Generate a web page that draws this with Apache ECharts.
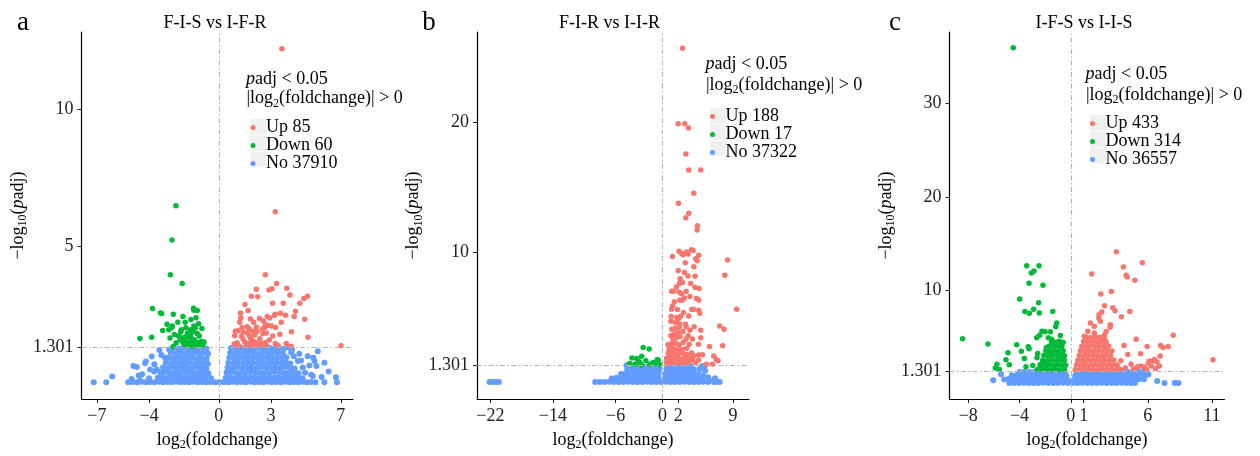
<!DOCTYPE html>
<html><head><meta charset="utf-8">
<script src="https://cdn.jsdelivr.net/npm/echarts@6/dist/echarts.min.js"></script>
<style>html,body{margin:0;padding:0;background:#fff}#chart{width:1260px;height:456px}</style>
</head><body><div id="chart"></div>
<script>
// ---------- DATA ----------
const titles = ['F-I-S vs I-F-R', 'F-I-R vs I-I-R', 'I-F-S vs I-I-S'];
const letters = ['a', 'b', 'c'];
const aLabels = ['Up 85', 'Down 60', 'No 37910'];
const bLabels = ['Up 188', 'Down 17', 'No 37322'];
const cLabels = ['Up 433', 'Down 314', 'No 36557'];
const aXTicks = [-7, -4, 0, 3, 7];
const bXTicks = [-22, -14, -6, 0, 2, 9];
const cXTicks = [-8, -4, 0, 1, 6, 11];
const aYTicks = [1.301, 5, 10];
const bYTicks = [1.301, 10, 20];
const cYTicks = [1.301, 10, 20, 30];
const threshold = 1.301;

const aUp = [[3.62,12.22],[3.24,6.25],[2.67,3.94],[3.31,3.62],[2.15,3.41],[3.05,3.43],[2.88,3.38],[3.9,3.45],[1.87,3.15],[2.23,3.13],[4.08,3.2],[5.09,3.15],[4.88,3.07],[4.65,2.9],[3.09,2.9],[1.68,2.63],[1.24,2.54],[3.54,2.53],[3.83,2.46],[3.18,2.45],[3.24,2.49],[4.32,2.41],[2.78,2.41],[2.91,2.36],[1.26,2.36],[1.81,2.32],[2.33,2.34],[4.93,2.31],[3.01,2.06],[3.26,2.01],[3.58,2.2],[1.33,2.01],[1.62,2.04],[2.15,2.03],[2.63,2.01],[2.67,2.12],[2.82,2.08],[0.95,1.87],[1.09,1.89],[1.39,1.85],[1.64,1.81],[1.96,1.86],[2.19,1.87],[4.17,1.85],[3.5,1.76],[5.12,1.65],[0.91,1.71],[1.3,1.69],[1.77,1.69],[2.06,1.73],[2.53,1.79],[2.72,1.81],[1.05,1.45],[1.49,1.47],[1.68,1.42],[1.96,1.51],[2.15,1.45],[2.44,1.42],[2.67,1.45],[3.24,1.42],[3.87,1.42],[1.16,1.33],[1.58,1.33],[1.93,1.35],[2.3,1.36],[2.72,1.35],[4.15,1.32],[7.01,1.34],[1.4,1.58],[1.85,1.58],[2.35,1.6],[2.9,1.55],[2.5,1.95],[1.2,2.2],[3.1,1.7],[0.88,1.4],[2.0,2.2],[3.4,1.35],[2.05,1.38],[1.75,1.95],[3.7,2.9],[4.4,2.6],[1.5,2.85],[2.55,2.25]];
const aDown = [[-2.46,6.47],[-2.69,5.21],[-2.78,3.94],[-2.1,3.62],[-3.81,2.7],[-3.35,2.54],[-3.28,2.52],[-2.61,2.49],[-1.45,2.71],[-1.43,2.64],[-1.24,2.63],[-2.06,2.41],[-1.31,2.37],[-1.93,2.2],[-2.97,2.13],[-2.67,2.06],[-2.7,2.01],[-3.22,1.9],[-2.87,1.93],[-2.15,1.93],[-1.89,2.0],[-1.43,2.06],[-1.16,2.15],[-0.97,1.97],[-2.19,1.84],[-1.62,1.93],[-1.47,1.86],[-1.24,1.79],[-1.85,1.69],[-1.71,1.65],[-1.62,1.75],[-2.04,1.63],[-4.53,1.61],[-3.85,1.65],[-2.21,1.55],[-2.06,1.47],[-1.85,1.48],[-1.66,1.5],[-1.47,1.42],[-1.3,1.39],[-0.9,1.37],[-1.09,1.36],[-2.61,1.31],[-1.55,1.6],[-1.95,1.38],[-1.75,1.34],[-1.38,1.55],[-1.2,1.46],[-2.3,1.7],[-1.0,1.5],[-2.45,1.45],[-1.6,2.3],[-1.35,2.0],[-1.8,1.8],[-2.35,2.2],[-1.12,1.7],[-0.85,1.48],[-2.8,1.62],[-2.55,1.75],[-1.5,1.32]];
const aNo = [[-7.18,0],[-6.46,0],[-6.12,0.21],[-5.2,0],[-4.95,0.01],[-4.7,0],[-4.45,0.02],[-4.2,0],[-3.95,0.01],[-3.7,0],[-3.45,0.02],[-3.2,0],[-2.95,0.01],[-2.7,0],[-2.45,0.02],[-2.2,0],[-1.95,0.01],[-1.7,0],[-1.45,0.02],[-1.2,0],[-0.95,0.01],[-0.7,0],[-0.45,0.01],[-0.2,0],[0.05,0],[0.3,0.01],[0.55,0],[0.8,0.02],[1.05,0],[1.3,0.01],[1.55,0],[1.8,0.02],[2.05,0],[2.3,0.01],[2.55,0],[2.8,0.02],[3.05,0],[3.3,0.01],[3.55,0],[3.8,0.02],[4.05,0],[4.3,0.01],[4.55,0],[4.8,0.02],[5.05,0],[5.3,0.01],[5.54,0],[6.06,0],[6.78,0],[6.72,0.19],[5.39,0.23],
[-3.5,0.17],[-3.22,0.19],[-2.95,0.16],[-2.68,0.2],[-2.4,0.18],[-2.12,0.17],[-1.85,0.19],[-1.58,0.16],[-1.3,0.2],[-1.03,0.18],[-0.76,0.17],[-0.45,0.15],
[-3.35,0.36],[-3.08,0.38],[-2.8,0.34],[-2.52,0.37],[-2.25,0.35],[-1.98,0.38],[-1.7,0.36],[-1.42,0.34],[-1.15,0.37],[-0.88,0.35],[-0.6,0.33],
[-3.2,0.54],[-2.92,0.52],[-2.65,0.56],[-2.38,0.53],[-2.1,0.55],[-1.83,0.54],[-1.55,0.52],[-1.28,0.56],[-1.0,0.53],[-0.72,0.51],
[-3.05,0.72],[-2.78,0.7],[-2.5,0.74],[-2.22,0.71],[-1.95,0.73],[-1.68,0.72],[-1.4,0.7],[-1.12,0.74],[-0.85,0.71],[-0.62,0.68],
[-2.9,0.9],[-2.62,0.88],[-2.35,0.92],[-2.08,0.89],[-1.8,0.91],[-1.52,0.9],[-1.25,0.88],[-0.98,0.92],[-0.7,0.87],
[-2.75,1.08],[-2.48,1.06],[-2.2,1.1],[-1.92,1.07],[-1.65,1.09],[-1.38,1.08],[-1.1,1.06],[-0.85,1.1],[-0.62,1.05],
[-2.6,1.26],[-2.32,1.24],[-2.05,1.27],[-1.78,1.25],[-1.5,1.26],[-1.22,1.24],[-0.95,1.27],[-0.7,1.23],
[-4.9,0.6],[-4.7,0.56],[-4.19,0.76],[-4.23,0.7],[-3.41,1.18],[-3.7,0.66],[-3.56,0.47],[-3.94,0.47],[-3.71,0.4],[-3.85,0.95],[-4.4,0.3],[-4.0,0.15],[-4.51,0.07],[-3.09,0.9],[-2.85,1.2],[-3.3,1.0],[-2.63,1.28],[-4.6,0.25],[-5.0,0.12],
[0.4,0.17],[0.68,0.19],[0.95,0.16],[1.22,0.2],[1.5,0.18],[1.78,0.17],[2.05,0.19],[2.32,0.16],[2.6,0.2],[2.88,0.18],[3.15,0.17],[3.42,0.19],[3.7,0.16],[3.98,0.2],[4.25,0.18],[4.52,0.17],[4.8,0.15],
[0.45,0.36],[0.72,0.38],[1.0,0.34],[1.28,0.37],[1.55,0.35],[1.82,0.38],[2.1,0.36],[2.38,0.34],[2.65,0.37],[2.92,0.35],[3.2,0.38],[3.48,0.36],[3.75,0.34],[4.02,0.37],[4.3,0.35],[4.58,0.33],
[0.5,0.54],[0.78,0.52],[1.05,0.56],[1.32,0.53],[1.6,0.55],[1.88,0.54],[2.15,0.52],[2.42,0.56],[2.7,0.53],[2.98,0.55],[3.25,0.54],[3.52,0.52],[3.8,0.56],[4.08,0.53],[4.35,0.51],
[0.55,0.72],[0.82,0.7],[1.1,0.74],[1.38,0.71],[1.65,0.73],[1.92,0.72],[2.2,0.7],[2.48,0.74],[2.75,0.71],[3.02,0.73],[3.3,0.72],[3.58,0.7],[3.85,0.74],[4.1,0.69],
[0.6,0.9],[0.88,0.88],[1.15,0.92],[1.42,0.89],[1.7,0.91],[1.98,0.9],[2.25,0.88],[2.52,0.92],[2.8,0.89],[3.08,0.91],[3.35,0.9],[3.62,0.88],[3.88,0.92],
[0.65,1.08],[0.92,1.06],[1.2,1.1],[1.48,1.07],[1.75,1.09],[2.02,1.08],[2.3,1.06],[2.58,1.1],[2.85,1.07],[3.12,1.09],[3.4,1.08],[3.68,1.05],
[0.7,1.26],[0.98,1.24],[1.25,1.27],[1.52,1.25],[1.8,1.26],[2.08,1.24],[2.35,1.27],[2.62,1.25],[2.9,1.26],[3.18,1.24],[3.45,1.27],[3.72,1.22],
[4.21,1.2],[4.15,1.1],[4.3,0.96],[4.53,0.78],[4.72,0.8],[4.82,0.54],[5.1,0.96],[5.68,1.14],[5.49,0.78],[6.06,0.72],[5.3,0.28],[5.6,0.6],[5.42,0.9],[4.62,1.05],[3.98,1.28],[4.95,0.35],[5.2,0.62],[6.3,0.4],[5.9,0.2]];

const bUp = [[2.55,25.74],[1.99,19.92],[2.84,19.92],[3.31,19.59],[2.97,17.59],[3.35,16.36],[4.88,16.36],[3.99,14.56],[2.04,13.79],[3.35,13.02],[2.97,12.67],[4.46,12.05],[4.41,11.72],[1.27,9.69],[2.11,10.08],[2.42,9.92],[2.62,9.82],[3.06,10.02],[3.26,9.87],[3.69,10.21],[3.9,10.15],[4.62,9.77],[4.24,9.51],[4.41,9.36],[8.32,9.41],[3.99,8.9],[2.8,8.44],[3.26,8.18],[4.15,8.15],[7.94,8.23],[2.24,7.97],[2.37,7.77],[2.55,7.67],[2.17,7.59],[1.78,7.33],[4.15,7.31],[4.66,7.21],[1.18,7.0],[1.4,7.0],[2.11,6.95],[3.01,6.98],[2.8,6.49],[4.33,6.44],[4.62,6.33],[2.2,6.31],[2.5,6.31],[1.27,5.87],[1.15,5.62],[3.73,5.59],[3.95,5.62],[4.62,5.54],[4.75,5.31],[9.46,5.62],[2.67,5.36],[3.35,5.1],[1.1,5.05],[1.82,4.98],[1.99,4.85],[2.29,5.05],[7.3,4.33],[7.85,4.08],[1.06,4.69],[1.61,4.59],[2.2,4.46],[2.93,4.46],[1.18,4.08],[1.61,4.15],[2.11,4.23],[3.01,4.26],[4.03,4.26],[4.88,4.0],[3.26,3.56],[3.82,3.31],[4.88,3.41],[4.59,2.92],[1.06,3.56],[1.35,3.31],[1.78,3.44],[2.24,3.49],[1.27,3.05],[1.69,3.0],[2.11,2.85],[2.62,3.05],[1.18,2.67],[0.84,2.54],[1.61,2.54],[2.2,2.49],[3.06,2.59],[5.99,2.74],[7.68,2.79],[0.71,2.23],[1.15,2.15],[1.57,2.13],[2.11,2.28],[2.62,2.18],[3.06,2.13],[3.69,2.23],[3.99,2.03],[4.59,2.08],[6.54,2.0],[6.88,1.72],[0.51,1.82],[0.93,1.72],[1.35,1.77],[1.86,1.64],[2.29,1.77],[2.84,1.72],[3.39,1.62],[3.82,1.72],[0.51,1.51],[1.15,1.46],[1.69,1.46],[2.2,1.51],[2.71,1.46],[3.26,1.46],[5.61,1.38],[6.37,1.38],[7.09,1.64],[0.6,1.4],[0.9,1.95],[1.4,2.4],[1.9,2.0],[2.5,2.5],[2.9,1.95],[3.5,1.85],[0.7,2.9],[1.5,3.7],[2.6,3.9],[3.4,2.9],[3.5,4.0],[1.9,5.6],[2.4,6.8],[1.5,6.2],[3.5,6.6],[2.0,8.6],[3.6,7.6],[2.9,9.2],[1.7,1.9],[2.4,1.65],[4.2,1.5],[4.6,1.7],[5.1,2.1],[0.8,1.6],[3.0,3.3],[2.0,3.8]];
const bDown = [[-2.47,2.67],[-1.71,2.54],[-3.91,1.85],[-3.31,1.82],[-2.68,1.98],[-3.11,1.64],[-2.13,1.64],[-0.69,1.72],[-1.2,1.51],[-3.53,1.38],[-1.62,1.38],[-2.68,1.31],[-0.56,1.69],[-4.2,1.42],[-2.9,1.5],[-0.95,1.45],[-0.4,1.36]];
const bNo = [[-22.1,0],[-21.7,0],[-21.3,0],[-20.9,0],
[-8.6,0],[-8.0,0.01],[-7.4,0],[-6.8,0.02],[-6.2,0],[-5.6,0.01],[-5.0,0],[-4.4,0.02],[-3.8,0],[-3.2,0.01],[-2.6,0],[-2.0,0.02],[-1.4,0],[-0.8,0.01],[-0.2,0],[0.4,0.02],[1.0,0],[1.6,0.01],[2.2,0],[2.8,0.02],[3.4,0],[4.0,0.01],[4.6,0],[5.2,0.02],[5.8,0],[6.6,0],[6.95,0.02],[7.3,0],[6.7,0.3],
[-6.5,0.28],[-5.9,0.32],[-5.3,0.3],[-4.7,0.34],[-4.1,0.27],[-3.5,0.31],[-2.9,0.33],[-2.3,0.29],[-1.7,0.32],[-1.1,0.3],[-0.5,0.28],
[-5.3,0.62],[-4.7,0.66],[-4.1,0.64],[-3.5,0.68],[-2.9,0.63],[-2.3,0.67],[-1.7,0.65],[-1.1,0.62],[-0.5,0.66],
[-4.5,0.98],[-3.9,1.02],[-3.3,0.97],[-2.7,1.01],[-2.1,0.99],[-1.5,1.03],[-0.9,0.98],[-0.4,1.0],
[-3.0,1.16],[-1.8,1.2],[-0.9,1.22],[-2.4,1.18],[-4.6,1.3],
[0.3,0.3],[0.9,0.27],[1.5,0.32],[2.1,0.29],[2.7,0.33],[3.3,0.28],[3.9,0.31],[4.5,0.3],[5.1,0.27],
[0.4,0.63],[1.0,0.67],[1.6,0.64],[2.2,0.66],[2.8,0.62],[3.4,0.68],[4.0,0.65],[4.6,0.62],
[0.5,0.98],[1.1,1.02],[1.7,0.99],[2.3,1.01],[2.9,0.97],[3.5,1.03],[4.0,0.99],
[0.6,1.24],[1.2,1.26],[1.8,1.23],[2.4,1.27],[3.0,1.25],[3.6,1.24],
[4.75,1.0],[5.39,1.25],[5.17,0.48],[5.81,0.36],[4.97,1.22],[5.43,0.87],[6.0,0.1]];

const cUp = [[3.55,14.1],[4.1,12.46],[5.58,12.92],[1.63,11.71],[4.31,11.57],[4.39,11.39],[4.99,11.04],[2.33,9.57],[3.16,9.83],[2.62,8.29],[3.27,8.08],[3.45,7.76],[4.6,7.69],[3.94,7.12],[2.41,7.62],[2.2,7.33],[2.18,6.98],[2.3,6.63],[1.52,6.45],[1.83,6.09],[3.08,6.26],[3.06,5.99],[2.75,5.52],[2.62,5.13],[1.32,5.56],[1.83,5.38],[1.05,5.03],[7.98,5.13],[5.09,4.71],[4.15,4.02],[5.95,3.92],[6.99,4.02],[7.59,3.92],[7.2,3.81],[4.44,3.06],[5.43,3.14],[6.96,2.89],[6.39,2.36],[6.71,2.28],[6.05,2.18],[4.7,2.0],[5.19,1.75],[4.25,1.64],[5.74,1.72],[6.26,1.82],[11.08,2.5],[6.52,2.53],[6.13,2.36],[5.48,1.82],[6.91,1.82],[4.9,1.5],[5.9,1.45],[6.6,1.55],[3.9,2.4],[3.6,1.9],
[0.35,1.45],[0.7,1.42],[1.05,1.47],[1.4,1.44],[1.75,1.46],[2.1,1.43],[2.45,1.48],[2.8,1.44],[3.15,1.46],[3.5,1.42],[3.85,1.45],
[0.45,1.95],[0.8,1.92],[1.15,1.97],[1.5,1.94],[1.85,1.96],[2.2,1.93],[2.55,1.98],[2.9,1.94],[3.25,1.96],[3.6,1.92],
[0.55,2.45],[0.9,2.42],[1.25,2.47],[1.6,2.44],[1.95,2.46],[2.3,2.43],[2.65,2.48],[3.0,2.44],[3.35,2.46],
[0.65,2.95],[1.0,2.92],[1.35,2.97],[1.7,2.94],[2.05,2.96],[2.4,2.93],[2.75,2.98],[3.1,2.94],
[0.75,3.45],[1.1,3.42],[1.45,3.47],[1.8,3.44],[2.15,3.46],[2.5,3.43],[2.85,3.48],[3.2,3.44],
[0.85,3.95],[1.2,3.92],[1.55,3.97],[1.9,3.94],[2.25,3.96],[2.6,3.93],[2.95,3.98],
[1.0,4.45],[1.35,4.42],[1.7,4.47],[2.05,4.44],[2.4,4.46],[2.75,4.43],
[1.2,4.9],[1.55,4.88],[1.9,4.93],[2.25,4.9],[2.6,4.86]];
const cDown = [[-4.49,36.0],[-3.44,12.6],[-2.48,12.6],[-2.87,12.03],[-3.08,11.82],[-3.26,10.71],[-2.17,10.5],[-3.99,9.01],[-2.51,8.61],[-3.58,7.69],[-3.24,7.48],[-2.9,7.91],[-2.46,7.51],[-1.41,7.69],[-1.1,6.45],[-1.18,6.05],[-2.25,5.56],[-2.01,5.49],[-1.6,5.49],[-2.43,5.13],[-1.76,4.85],[-2.66,4.85],[-0.82,5.09],[-0.9,4.49],[-1.49,4.71],[-8.44,4.74],[-6.46,4.2],[-4.22,4.1],[-3.32,3.88],[-3.26,3.67],[-3.86,3.42],[-4.9,3.24],[-2.58,3.17],[-2.64,2.71],[-1.91,3.78],[-1.91,3.06],[-3.63,2.63],[-5.06,2.5],[-4.8,1.96],[-2.97,1.89],[-5.89,1.61],[-5.76,2.0],[-5.58,1.46],[-3.5,1.75],[-2.33,1.82],[-2.07,2.0],[-3.29,3.85],
[-2.6,1.45],[-2.25,1.42],[-1.9,1.47],[-1.55,1.44],[-1.2,1.46],[-0.85,1.43],[-0.5,1.45],
[-2.4,1.95],[-2.05,1.92],[-1.7,1.97],[-1.35,1.94],[-1.0,1.96],[-0.65,1.93],[-0.4,1.9],
[-2.2,2.45],[-1.85,2.42],[-1.5,2.47],[-1.15,2.44],[-0.8,2.46],[-0.5,2.43],
[-2.1,2.95],[-1.75,2.92],[-1.4,2.97],[-1.05,2.94],[-0.7,2.96],[-0.5,2.92],
[-1.95,3.45],[-1.6,3.42],[-1.25,3.47],[-0.9,3.44],[-0.6,3.46],
[-1.7,3.95],[-1.35,3.92],[-1.0,3.97],[-0.7,3.94],
[-1.5,4.4],[-1.15,4.38],[-0.85,4.42],[-0.6,4.36]];
const cNo = [[-4.8,0],[-4.42,0.01],[-4.04,0],[-3.66,0.02],[-3.28,0],[-2.9,0.01],[-2.52,0],[-2.14,0.02],[-1.76,0],[-1.38,0.01],[-1.0,0],[-0.62,0.02],[-0.24,0],[0.14,0.01],[0.52,0],[0.9,0.02],[1.28,0],[1.66,0.01],[2.04,0],[2.42,0.02],[2.8,0],[3.18,0.01],[3.56,0],[3.94,0.02],[4.32,0],[4.7,0.01],[5.0,0],[7.3,0],[8.1,0],[8.4,0],[6.73,0.22],[-6.05,0.3],[-5.45,0.93],
[-5.2,0.38],[-4.85,0.42],[-4.5,0.4],[-4.1,0.37],[-3.7,0.41],[-3.3,0.39],[-2.9,0.43],[-2.5,0.38],[-2.1,0.4],[-1.7,0.42],[-1.3,0.37],[-0.9,0.41],[-0.5,0.39],[-0.2,0.3],[0.2,0.32],[0.5,0.41],[0.9,0.38],[1.3,0.42],[1.7,0.4],[2.1,0.37],[2.5,0.41],[2.9,0.39],[3.3,0.43],[3.7,0.38],[4.1,0.4],[4.5,0.42],[4.9,0.37],[5.3,0.41],[5.7,0.39],
[-4.6,0.83],[-4.2,0.87],[-3.8,0.84],[-3.4,0.86],[-3.0,0.82],[-2.6,0.88],[-2.2,0.85],[-1.8,0.83],[-1.4,0.87],[-1.0,0.84],[-0.6,0.86],[-0.35,0.8],[0.35,0.8],[0.65,0.86],[1.0,0.83],[1.4,0.87],[1.8,0.85],[2.2,0.82],[2.6,0.88],[3.0,0.84],[3.4,0.86],[3.8,0.83],[4.2,0.87],[4.6,0.85],[5.0,0.82],[5.4,0.88],[5.8,0.84],[6.05,0.9],
[-4.0,1.18],[-3.6,1.22],[-3.2,1.19],[-2.8,1.23],[-2.4,1.17],[-2.0,1.21],[-1.6,1.2],[-1.2,1.18],[-0.8,1.22],[-0.5,1.16],[0.5,1.16],[0.8,1.22],[1.2,1.19],[1.6,1.21],[2.0,1.18],[2.4,1.23],[2.8,1.2],[3.2,1.17],[3.6,1.22],[4.0,1.19],[4.4,1.21],[4.8,1.18],[5.2,1.23],[5.6,1.2],[5.95,1.15]];

// ---------- LAYOUT ----------
const FONT = 'Liberation Serif';
const RED = '#F8766D', GREEN = '#00BA38', BLUE = '#619CFF';
const panels = [
  {up:aUp, down:aDown, no:aNo, labels:aLabels, xt:aXTicks, yt:aYTicks,
   grid:{left:81.5, top:32, width:271.5, height:368}, xr:[-7.88,7.70], yr:[-0.61,12.83],
   leg:{x:250.5, t1:79, t2:98.5, top:118.5}, tx:215, lx:23},
  {up:bUp, down:bDown, no:bNo, labels:bLabels, xt:bXTicks, yt:bYTicks,
   grid:{left:477, top:32, width:272, height:368}, xr:[-23.7,11.04], yr:[-1.31,27.0],
   leg:{x:710, t1:63.5, t2:85, top:107.5}, tx:609.5, lx:429},
  {up:cUp, down:cDown, no:cNo, labels:cLabels, xt:cXTicks, yt:cYTicks,
   grid:{left:949.5, top:32, width:275, height:369}, xr:[-9.46,11.98], yr:[-1.72,37.7],
   leg:{x:1090, t1:74, t2:95, top:114.5}, tx:1084, lx:895}
];

const richBase = {
  n: {fontFamily: FONT, fontSize: 18, lineHeight: 20, color: '#000', verticalAlign: 'top'},
  i: {fontFamily: FONT, fontSize: 18, lineHeight: 20, color: '#000', fontStyle: 'italic', verticalAlign: 'top'},
  s: {fontFamily: FONT, fontSize: 12, lineHeight: 12, color: '#000', padding: [8, 0, 0, 0], verticalAlign: 'top'}
};
const minus = v => String(v).replace('-', '\u2212');

const option = {animation: false, grid: [], xAxis: [], yAxis: [], series: [], legend: [], graphic: []};
const ROW = 16.5;
panels.forEach((p, k) => {
  option.grid.push(Object.assign({}, p.grid));
  option.xAxis.push({
    type: 'value', gridIndex: k, min: p.xr[0], max: p.xr[1],
    name: '{n|log}{s|2}{n|(foldchange)}', nameLocation: 'middle', nameGap: 32,
    nameTextStyle: {rich: richBase},
    axisLine: {show: true, onZero: false, lineStyle: {color: '#000', width: 1.2}},
    axisTick: {show: true, length: 4, inside: false, customValues: p.xt, lineStyle: {color: '#222', width: 1}},
    axisLabel: {customValues: p.xt, formatter: minus, fontFamily: FONT, fontSize: 18, color: '#222', margin: 8},
    splitLine: {show: false}
  });
  option.yAxis.push({
    type: 'value', gridIndex: k, min: p.yr[0], max: p.yr[1],
    name: '{n|\u2212log}{s|10}{n|(}{i|p}{n|adj)}', nameLocation: 'middle', nameGap: 50, nameRotate: 90,
    nameTextStyle: {rich: richBase},
    axisLine: {show: true, onZero: false, lineStyle: {color: '#000', width: 1.2}},
    axisTick: {show: true, length: 4, inside: false, customValues: p.yt, lineStyle: {color: '#222', width: 1}},
    axisLabel: {customValues: p.yt, formatter: minus, fontFamily: FONT, fontSize: 18, color: '#222', margin: 8},
    splitLine: {show: false}
  });
  const base = {type: 'scatter', xAxisIndex: k, yAxisIndex: k, symbol: 'circle', silent: true};
  option.series.push(Object.assign({}, base, {name: p.labels[2], data: p.no, symbolSize: 6, itemStyle: {color: BLUE, opacity: 1}}));
  option.series.push(Object.assign({}, base, {name: p.labels[1], data: p.down, symbolSize: 5.5, itemStyle: {color: GREEN, opacity: 1}}));
  option.series.push(Object.assign({}, base, {name: p.labels[0], data: p.up, symbolSize: 5.5, itemStyle: {color: RED, opacity: 1},
    markLine: {silent: true, symbol: 'none', label: {show: false},
      lineStyle: {color: '#B5B5B5', width: 1.1, type: [5, 2.5, 1.5, 2.5]},
      data: [{yAxis: threshold}, {xAxis: 0}]}}));
  option.legend.push({
    left: p.leg.x, top: p.leg.top, orient: 'vertical', padding: 0, itemGap: 0,
    itemWidth: 16, itemHeight: 5, icon: 'circle', selectedMode: false,
    data: p.labels.slice(),
    textStyle: {fontFamily: FONT, fontSize: 18, color: '#000', lineHeight: ROW}
  });
  for (let r = 0; r < 3; r++) {
    option.graphic.push({type: 'rect', z: 1, silent: true,
      shape: {x: p.leg.x, y: p.leg.top + r * ROW + 0.5, width: 16, height: ROW - 1},
      style: {fill: '#F0F0F0'}});
  }
  option.graphic.push({type: 'text', z: 5, silent: true, x: p.leg.x - 4.5, y: p.leg.t1 + 1.5,
    style: {text: '{i|p}{n|adj < 0.05}', rich: richBase, align: 'left', verticalAlign: 'middle', textAlign: 'left', textVerticalAlign: 'middle'}});
  option.graphic.push({type: 'text', z: 5, silent: true, x: p.leg.x - 4, y: p.leg.t2 + 1,
    style: {text: '{n||log}{s|2}{n|(foldchange)| > 0}', rich: richBase, align: 'left', verticalAlign: 'middle', textAlign: 'left', textVerticalAlign: 'middle'}});
  option.graphic.push({type: 'text', z: 5, silent: true, x: p.tx, y: 23.5,
    style: {text: titles[k], fontFamily: FONT, fontSize: 18, fill: '#000', align: 'center', verticalAlign: 'middle', textAlign: 'center', textVerticalAlign: 'middle'}});
  option.graphic.push({type: 'text', z: 5, silent: true, x: p.lx, y: 22.5,
    style: {text: letters[k], fontFamily: FONT, fontSize: 27, fill: '#000', align: 'center', verticalAlign: 'middle', textAlign: 'center', textVerticalAlign: 'middle'}});
});

const chart = echarts.init(document.getElementById('chart'), null, {renderer: 'canvas'});
chart.setOption(option);
</script></body></html>
